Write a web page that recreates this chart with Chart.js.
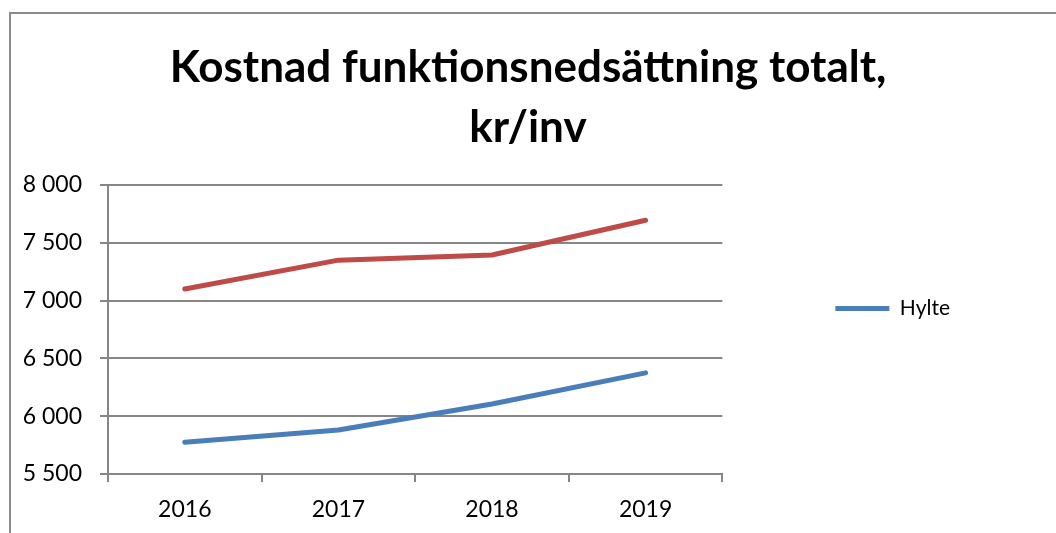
<!DOCTYPE html>
<html>
<head>
<meta charset="utf-8">
<script src="https://cdn.jsdelivr.net/npm/chart.js@4/dist/chart.umd.min.js"></script>
<style>
  html, body { margin: 0; padding: 0; background: #fff; }
  #wrap { position: relative; width: 1056px; height: 533px; overflow: hidden; }
  #frame { position: absolute; left: 9px; top: 12px; width: 1100px; height: 600px; border: 2px solid #8c8c8c; box-sizing: border-box; pointer-events: none; }
  canvas { position: absolute; left: 0; top: 0; }
</style>
</head>
<body>
<div id="wrap">
  <canvas id="c" width="1056" height="533"></canvas>
  <div id="frame"></div>
</div>
<script>
const titleLines = ['Kostnad funktionsnedsättning totalt,', 'kr/inv'];
const categories = ['2016', '2017', '2018', '2019'];
const hylteValues = [5775, 5880, 6105, 6375];
const otherValues = [7100, 7350, 7395, 7695];
const seriesLabels = ['Hylte', ''];
const yMin = 5500, yMax = 8000, yStep = 500;

const FONT = 'Lato, "DejaVu Sans", sans-serif';
const gridColor = '#868686';

function fmt(v) {
  return String(v).replace(/\B(?=(\d{3})+(?!\d))/g, ' ');
}

new Chart(document.getElementById('c'), {
  type: 'line',
  data: {
    labels: categories,
    datasets: [
      { label: seriesLabels[0], data: hylteValues, borderColor: '#4A7EBB', backgroundColor: '#4A7EBB',
        borderWidth: 5, pointRadius: 0, borderCapStyle: 'round', borderJoinStyle: 'round', tension: 0, yAxisID: 'y' },
      { label: seriesLabels[1], data: otherValues, borderColor: '#BE4B48', backgroundColor: '#BE4B48',
        borderWidth: 5, pointRadius: 0, borderCapStyle: 'round', borderJoinStyle: 'round', tension: 0, yAxisID: 'y' }
    ]
  },
  options: {
    responsive: false,
    animation: false,
    layout: { padding: 0 },
    plugins: {
      tooltip: { enabled: false },
      title: {
        display: true,
        text: titleLines,
        color: '#000',
        font: { family: FONT, size: 44, weight: 'bold', lineHeight: '60px' },
        padding: { top: 38, bottom: 27 }
      },
      legend: {
        display: true,
        position: 'right',
        align: 'start',
        fullSize: false,
        maxWidth: 400,
        labels: {
          filter: (item) => item.text !== '',
          usePointStyle: true,
          pointStyle: 'line',
          pointStyleWidth: 54,
          padding: 113,
          color: '#000',
          font: { family: FONT, size: 21 }
        }
      }
    },
    scales: {
      x: {
        offset: true,
        grid: { display: true, drawOnChartArea: false, drawTicks: true, tickLength: 8, color: gridColor, lineWidth: 2, offset: true },
        border: { display: true, color: gridColor, width: 2 },
        ticks: { color: '#000', padding: 14, font: { family: FONT, size: 23 }, maxRotation: 0 },
        afterFit: (s) => { s.height = 59; }
      },
      y: {
        min: yMin, max: yMax,
        grid: { color: gridColor, lineWidth: 2, tickLength: 8, drawTicks: true },
        border: { display: true, color: gridColor, width: 2 },
        ticks: { stepSize: yStep, color: '#000', padding: 18, font: { family: FONT, size: 23 }, callback: (v) => fmt(v) },
        afterFit: (s) => { s.width = 108; }
      },
      ySpacer: {
        position: 'right',
        weight: 3000,
        display: true,
        min: yMin, max: yMax,
        grid: { display: false, drawTicks: false },
        border: { display: false },
        ticks: { display: false },
        afterFit: (s) => { s.width = 96; }
      }
    }
  }
});
</script>
</body>
</html>
